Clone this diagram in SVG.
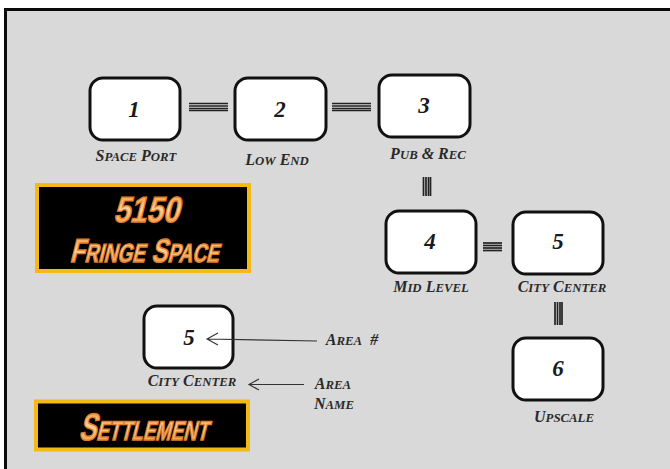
<svg xmlns="http://www.w3.org/2000/svg" width="670" height="469" viewBox="0 0 670 469">
<style>
.box{fill:#fff;stroke:#111;stroke-width:3}
.num{font:italic bold 23px "Liberation Serif",serif;fill:#1a1a1a;text-anchor:middle}
.lab{font:italic bold 16px "Liberation Serif",serif;fill:#2a2a2a;text-anchor:middle}
.lab tspan{font-size:12.8px}
.ban{fill:#000;stroke:#f4b914;stroke-width:4}
.bt{font-family:"Liberation Sans",sans-serif;font-weight:bold;fill:url(#g);stroke:#e07f28;stroke-width:1.4;text-anchor:middle}
.c line{stroke:#222;stroke-width:1.7}
.a{stroke:#333;stroke-width:1.1;fill:none}
</style>
<defs>
<linearGradient id="g" x1="0" y1="0" x2="0" y2="1"><stop offset="0" stop-color="#f28f32"/><stop offset=".5" stop-color="#fcd09a"/><stop offset="1" stop-color="#ee8a2e"/></linearGradient>
</defs>
<rect width="670" height="469" fill="#fff"/>
<rect x="5.500" y="9.500" width="670" height="470" fill="#d9d9d9" stroke="#0a0a0a" stroke-width="3"/>
<g id="connectors" class="c">
<line x1="189" y1="103.500" x2="228" y2="103.500"/><line x1="189" y1="106" x2="228" y2="106"/><line x1="189" y1="108.500" x2="228" y2="108.500"/><line x1="189" y1="110.500" x2="228" y2="110.500"/>
<line x1="332" y1="103.500" x2="371" y2="103.500"/><line x1="332" y1="106" x2="371" y2="106"/><line x1="332" y1="108.500" x2="371" y2="108.500"/><line x1="332" y1="110.500" x2="371" y2="110.500"/>
<line x1="423.500" y1="177" x2="423.500" y2="196"/><line x1="426" y1="177" x2="426" y2="196"/><line x1="428.500" y1="177" x2="428.500" y2="196"/><line x1="430.500" y1="177" x2="430.500" y2="196"/>
<line x1="483" y1="243" x2="502" y2="243"/><line x1="483" y1="245.500" x2="502" y2="245.500"/><line x1="483" y1="248" x2="502" y2="248"/><line x1="483" y1="250.500" x2="502" y2="250.500"/>
<line x1="555" y1="302" x2="555" y2="325"/><line x1="557.500" y1="302" x2="557.500" y2="325"/><line x1="560" y1="302" x2="560" y2="325"/><line x1="562" y1="302" x2="562" y2="325"/>
</g>
<g id="node-1"><rect class="box" x="90" y="78" width="90" height="62" rx="13"/><text class="num" x="134" y="117">1</text><text class="lab" x="136" y="161">S<tspan>PACE</tspan> P<tspan>ORT</tspan></text></g>
<g id="node-2"><rect class="box" x="235" y="78" width="91" height="62" rx="13"/><text class="num" x="280" y="117">2</text><text class="lab" x="277" y="165">L<tspan>OW</tspan> E<tspan>ND</tspan></text></g>
<g id="node-3"><rect class="box" x="379" y="75" width="91" height="62" rx="13"/><text class="num" x="424" y="113">3</text><text class="lab" x="428" y="159">P<tspan>UB</tspan> &amp; R<tspan>EC</tspan></text></g>
<g id="node-4"><rect class="box" x="386" y="211" width="90" height="62" rx="13"/><text class="num" x="430" y="249">4</text><text class="lab" x="431" y="292">M<tspan>ID</tspan> L<tspan>EVEL</tspan></text></g>
<g id="node-5"><rect class="box" x="513" y="212" width="90" height="62" rx="13"/><text class="num" x="558" y="249">5</text><text class="lab" x="562" y="292">C<tspan>ITY</tspan> C<tspan>ENTER</tspan></text></g>
<g id="node-6"><rect class="box" x="513" y="338" width="90" height="62" rx="13"/><text class="num" x="558" y="376">6</text><text class="lab" x="564" y="422">U<tspan>PSCALE</tspan></text></g>
<g id="legend-node"><rect class="box" x="144" y="306" width="89" height="62" rx="13"/><text class="num" x="189" y="345">5</text><text class="lab" x="192" y="386">C<tspan>ITY</tspan> C<tspan>ENTER</tspan></text></g>
<g id="legend-arrows">
<path class="a" d="M207 339L317 341M218 333L207 339L218 345"/>
<path class="a" d="M249 384.500H304M259 379L249 384.500L259 390"/>
<text class="lab" x="352" y="345" xml:space="preserve">A<tspan>REA</tspan>  #</text>
<text class="lab" x="333" y="389">A<tspan>REA</tspan></text>
<text class="lab" x="334" y="409">N<tspan>AME</tspan></text>
</g>
<g id="banner-title"><rect class="ban" x="37" y="185" width="212" height="86"/>
<text class="bt" font-size="36" transform="translate(146 222) skewX(-14) scale(.82 1)">5150</text>
<text class="bt" font-size="33" transform="translate(144 262) skewX(-14) scale(.73 1)">F<tspan font-size="26">RINGE</tspan> S<tspan font-size="26">PACE</tspan></text></g>
<g id="banner-settlement"><rect class="ban" x="36" y="401.500" width="212" height="48"/>
<text class="bt" font-size="38" transform="translate(143 440) skewX(-14) scale(.69 1)">S<tspan font-size="27">ETTLEMENT</tspan></text></g>
</svg>
